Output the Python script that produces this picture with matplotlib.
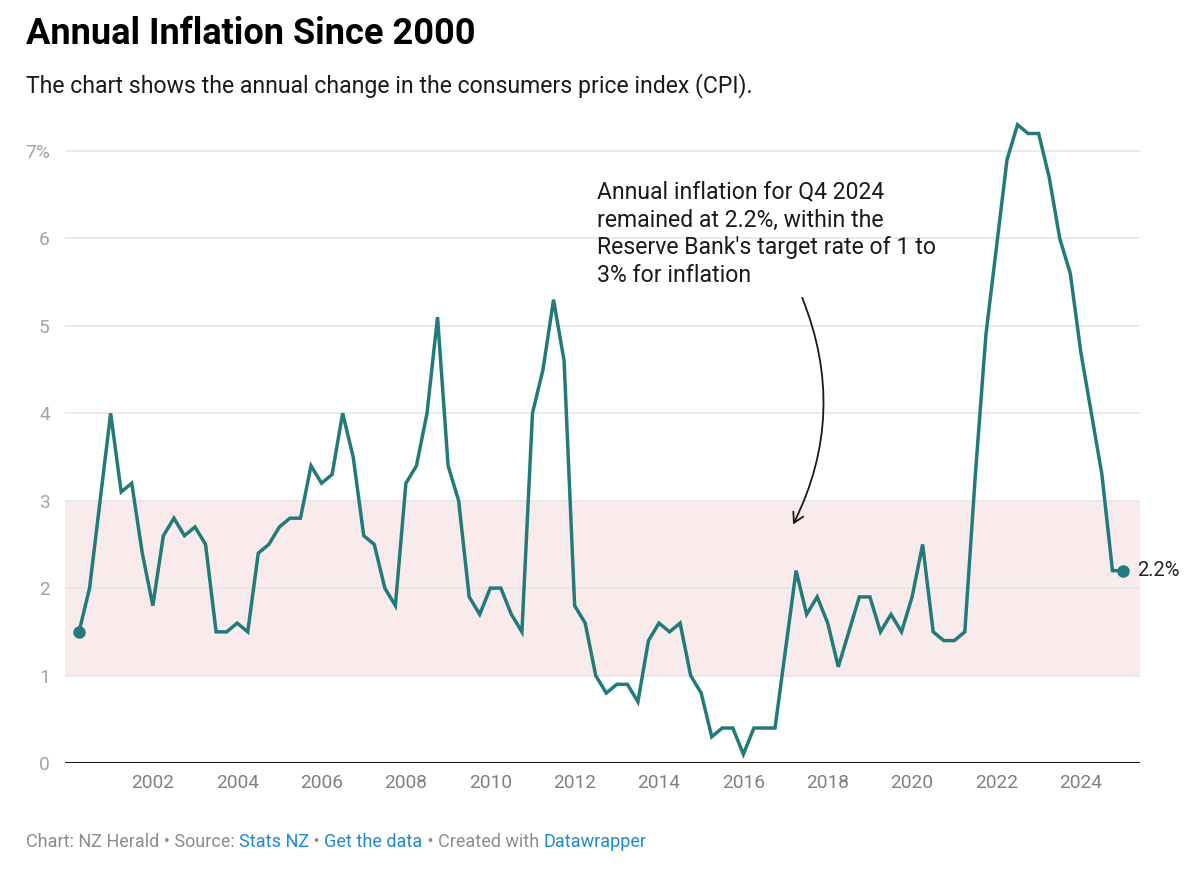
import matplotlib
matplotlib.use('Agg')
import matplotlib.pyplot as plt
from matplotlib.patches import FancyArrowPatch

# Inflation annuelle (IPC), trimestrielle, T1 2000 -> T4 2024
annees = list(range(2000, 2025))
inflation = [
    1.5, 2.0, 3.0, 4.0,   # 2000
    3.1, 3.2, 2.4, 1.8,   # 2001
    2.6, 2.8, 2.6, 2.7,   # 2002
    2.5, 1.5, 1.5, 1.6,   # 2003
    1.5, 2.4, 2.5, 2.7,   # 2004
    2.8, 2.8, 3.4, 3.2,   # 2005
    3.3, 4.0, 3.5, 2.6,   # 2006
    2.5, 2.0, 1.8, 3.2,   # 2007
    3.4, 4.0, 5.1, 3.4,   # 2008
    3.0, 1.9, 1.7, 2.0,   # 2009
    2.0, 1.7, 1.5, 4.0,   # 2010
    4.5, 5.3, 4.6, 1.8,   # 2011
    1.6, 1.0, 0.8, 0.9,   # 2012
    0.9, 0.7, 1.4, 1.6,   # 2013
    1.5, 1.6, 1.0, 0.8,   # 2014
    0.3, 0.4, 0.4, 0.1,   # 2015
    0.4, 0.4, 0.4, 1.3,   # 2016
    2.2, 1.7, 1.9, 1.6,   # 2017
    1.1, 1.5, 1.9, 1.9,   # 2018
    1.5, 1.7, 1.5, 1.9,   # 2019
    2.5, 1.5, 1.4, 1.4,   # 2020
    1.5, 3.3, 4.9, 5.9,   # 2021
    6.9, 7.3, 7.2, 7.2,   # 2022
    6.7, 6.0, 5.6, 4.7,   # 2023
    4.0, 3.3, 2.2, 2.2,   # 2024
]
# date de fin de trimestre, en années décimales
dates = [a + 0.25 * (q + 1) for a in annees for q in range(4)]

cible_min, cible_max = 1, 3
ticks_x = list(range(2002, 2025, 2))
ticks_y = [0, 1, 2, 3, 4, 5, 6, 7]
labels_y = ['0', '1', '2', '3', '4', '5', '6', '7%']

TEAL = '#237b79'
GRIS = '#e6e6e6'

plt.rcParams['font.family'] = ['Roboto', 'DejaVu Sans']

W, H = 1189, 882
fig = plt.figure(figsize=(W / 100, H / 100), dpi=100)
ax = fig.add_axes([65 / W, (H - 763) / H, (1140 - 65) / W, (763 - 120) / H])

ax.set_xlim(1999.918, 2025.403)
ax.set_ylim(0, (763 - 120) / 87.43)

# bande cible de la Reserve Bank
ax.axhspan(cible_min, cible_max, color='#f9ebec', zorder=0, lw=0)
for y in ticks_y[1:]:
    ax.axhline(y, color=GRIS, lw=1.2, zorder=1)
ax.axhline(0, color='#1a1a1a', lw=2.2, zorder=3)

ax.plot(dates, inflation, color=TEAL, lw=2.5, zorder=4, solid_joinstyle='miter')
ax.plot([dates[0], dates[-1]], [inflation[0], inflation[-1]], 'o',
        color=TEAL, ms=8, zorder=5)
ax.annotate(f'{inflation[-1]}%', (dates[-1], inflation[-1]), xytext=(10, 0),
            textcoords='offset points', va='center', ha='left',
            fontsize=14.5, color='#222222')

ax.set_xticks(ticks_x)
ax.set_xticklabels([str(t) for t in ticks_x], fontsize=13.8, color='#808080')
ax.set_yticks(ticks_y)
ax.set_yticklabels(labels_y, fontsize=13.8, color='#a3a3a3')
ax.tick_params(axis='both', length=0)
ax.tick_params(axis='x', pad=8)
ax.tick_params(axis='y', pad=11)
for s in ax.spines.values():
    s.set_visible(False)

# annotation
ax.text(2012.52, 6.66,
        "Annual inflation for Q4 2024\nremained at 2.2%, within the\n"
        "Reserve Bank's target rate of 1 to\n3% for inflation",
        fontsize=16.6, color='#1a1a1a', va='top', ha='left', linespacing=1.27)
fleche = FancyArrowPatch((2017.37, 5.35), (2017.15, 2.70),
                         connectionstyle='arc3,rad=-0.23',
                         arrowstyle='->,head_length=7,head_width=4',
                         color='#1a1a1a', lw=1.3, zorder=6)
ax.add_patch(fleche)

# titres
fig.text(26 / W, 1 - 34 / H, 'Annual Inflation Since 2000', fontsize=26,
         fontweight='bold', va='center', ha='left', color='#000000')
fig.text(26 / W, 1 - 86 / H,
         'The chart shows the annual change in the consumers price index (CPI).',
         fontsize=16.6, va='center', ha='left', color='#1a1a1a')

# pied de page avec liens en bleu
morceaux = [('Chart: NZ Herald • Source: ', '#8c8c8c'), ('Stats NZ', '#1d8acb'),
            (' • ', '#8c8c8c'), ('Get the data', '#1d8acb'),
            (' • Created with ', '#8c8c8c'), ('Datawrapper', '#1d8acb')]
fig.canvas.draw()
rend = fig.canvas.get_renderer()
x = 26
for txt, coul in morceaux:
    t = fig.text(x / W, 1 - 847 / H, txt, fontsize=13, color=coul,
                 va='baseline', ha='left')
    x += t.get_window_extent(renderer=rend).width

fig.savefig('out.png', dpi=100, facecolor='white')
